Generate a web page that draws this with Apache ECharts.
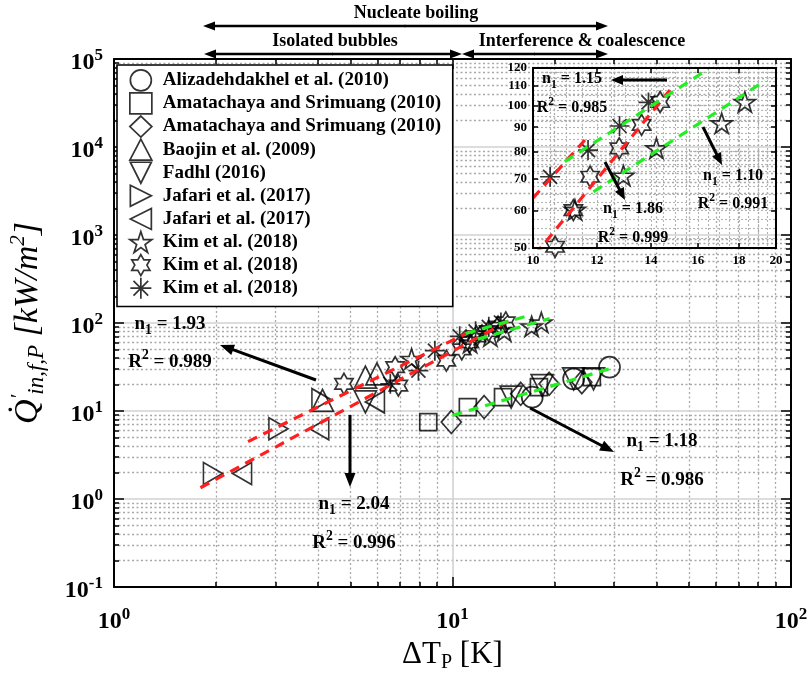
<!DOCTYPE html>
<html><head><meta charset="utf-8">
<script src="https://cdn.jsdelivr.net/npm/echarts@6/dist/echarts.min.js"></script>
<style>html,body{margin:0;padding:0;background:#fff}#c{width:811px;height:678px}</style>
</head><body><div id="c"></div>
<script>
const FONT = '"Liberation Serif", "Times New Roman", serif';

// ---------------- data ----------------
const seriesNames = [
  'Alizadehdakhel et al. (2010)',
  'Amatachaya and Srimuang (2010)',
  'Amatachaya and Srimuang (2010) ',
  'Baojin et al. (2009)',
  'Fadhl (2016)',
  'Jafari et al. (2017)',
  'Jafari et al. (2017) ',
  'Kim et al. (2018)',
  'Kim et al. (2018) ',
  'Kim et al. (2018)  '
];
const aliX = [17.2, 22.8, 29.1];
const aliY = [14.4, 23.2, 31.5];
const amaSqX = [8.48, 11.1, 14.1, 18.0, 25.8];
const amaSqY = [7.5, 11.1, 14.4, 18.7, 24.3];
const amaDiX = [9.92, 12.4, 15.9, 19.3, 24.1];
const amaDiY = [7.5, 11.1, 15.7, 20.4, 21.3];
const baoX = [4.13, 5.53, 5.98];
const baoY = [13.2, 24.3, 26.5];
const fadX = [5.53, 14.9, 18.4, 22.8, 26.1];
const fadY = [12.7, 14.4, 19.5, 23.2, 23.2];
const jafRX = [1.96, 3.06, 4.1];
const jafRY = [1.95, 6.3, 13.5];
const jafLX = [2.39, 4.04, 5.9];
const jafLY = [1.95, 6.3, 12.7];
const kimStarX = [7.57, 11.27, 12.94, 14.22, 17.13, 18.3];
const kimStarY = [39.2, 60.2, 71.1, 81.2, 91.7, 101.7];
const kimHexX = [4.78, 6.77, 6.92, 9.59, 10.65, 11.22, 11.77, 12.79, 13.63, 14.37];
const kimHexY = [20.4, 31.5, 19.5, 37.4, 50.3, 60.1, 70.7, 81.2, 91.0, 101.7];
const kimAstX = [6.55, 7.93, 8.87, 10.5, 11.7, 12.8, 13.9];
const kimAstY = [20.4, 28.8, 48.6, 70.7, 80.5, 90.5, 101.5];

// fitted lines (end points)
const redFit1X = [2.49, 11.6];   const redFit1Y = [4.5, 84.6];     // n1 = 1.93
const redFit2X = [1.80, 14.78];  const redFit2Y = [1.345, 107.8];  // n1 = 2.04 / 1.86
const greenFit1X = [10.0, 30.2]; const greenFit1Y = [8.93, 31.5];  // n1 = 1.18
const greenFit2X = [10.95, 16.49]; const greenFit2Y = [76.1, 119.4]; // n1 = 1.15
const greenFit3X = [11.88, 19.37]; const greenFit3Y = [65.7, 112.7]; // n1 = 1.10

// ticks
const xMajor = [1, 10, 100];
const yMajor = [0.1, 1, 10, 100, 1000, 10000, 100000];
const xMinor = [2,3,4,5,6,7,8,9,20,30,40,50,60,70,80,90];
const yMinor = [0.2,0.3,0.4,0.5,0.6,0.7,0.8,0.9,2,3,4,5,6,7,8,9,20,30,40,50,60,70,80,90,
  200,300,400,500,600,700,800,900,2000,3000,4000,5000,6000,7000,8000,9000,
  20000,30000,40000,50000,60000,70000,80000,90000];
const insetXTicks = [10, 12, 14, 16, 18, 20];
const insetYTicks = [50, 60, 70, 80, 90, 100, 110, 120];
const insetXGrid = [10.5, 11, 11.5, 12, 12.5, 13, 13.5, 14, 14.5, 15, 15.5, 16, 16.5, 17, 17.5, 18, 18.5, 19, 19.5];
const insetYGrid = [52.5, 55, 57.5, 60, 62.5, 65, 67.5, 70, 72.5, 75, 77.5, 80, 82.5, 85, 87.5, 90, 92.5, 95,
  97.5, 100, 102.5, 105, 107.5, 110, 112.5, 115, 117.5];

// ---------------- helpers ----------------
function pairs(xs, ys) { return xs.map((x, i) => [x, ys[i]]); }

const SYM = {
  circle: 'circle',
  square: 'rect',
  diamond: 'diamond',
  up: 'triangle',
  down: 'path://M0,0L100,0L50,100Z',
  right: 'path://M0,0L100,50L0,100Z',
  left: 'path://M100,0L0,50L100,100Z',
  star5: 'path://M50,0L61.23,34.55L97.55,34.55L68.17,55.9L79.39,90.45L50,69.1L20.61,90.45L31.83,55.9L2.45,34.55L38.77,34.55Z',
  star6: 'path://M50,0L64.43,25L93.3,25L78.87,50L93.3,75L64.43,75L50,100L35.57,75L6.7,75L21.13,50L6.7,25L35.57,25Z',
  aster: 'path://M50,0L50,100M0,50L100,50M15,15L85,85M85,15L15,85'
};

const markerStyle = {color: 'transparent', borderColor: '#000', borderWidth: 1.7};

const scatterDefs = [
  {name: seriesNames[0], x: aliX, y: aliY, sym: SYM.circle, size: 21},
  {name: seriesNames[1], x: amaSqX, y: amaSqY, sym: SYM.square, size: 17},
  {name: seriesNames[2], x: amaDiX, y: amaDiY, sym: SYM.diamond, size: [20, 23]},
  {name: seriesNames[3], x: baoX, y: baoY, sym: SYM.up, size: 22},
  {name: seriesNames[4], x: fadX, y: fadY, sym: SYM.down, size: 22},
  {name: seriesNames[5], x: jafRX, y: jafRY, sym: SYM.right, size: [19, 22]},
  {name: seriesNames[6], x: jafLX, y: jafLY, sym: SYM.left, size: [19, 22]},
  {name: seriesNames[7], x: kimStarX, y: kimStarY, sym: SYM.star5, size: 21, inset: true},
  {name: seriesNames[8], x: kimHexX, y: kimHexY, sym: SYM.star6, size: 21, inset: true},
  {name: seriesNames[9], x: kimAstX, y: kimAstY, sym: SYM.aster, size: 20, inset: true}
];

const series = [];
scatterDefs.forEach(d => {
  series.push({
    type: 'scatter', name: d.name, xAxisIndex: 0, yAxisIndex: 0,
    data: pairs(d.x, d.y), symbol: d.sym, symbolSize: d.size, symbolKeepAspect: true,
    itemStyle: markerStyle, z: 3, silent: true
  });
  if (d.inset) {
    series.push({
      type: 'scatter', name: d.name, xAxisIndex: 4, yAxisIndex: 4,
      data: pairs(d.x, d.y), symbol: d.sym, symbolSize: d.size, symbolKeepAspect: true,
      itemStyle: markerStyle, z: 3, silent: true, clip: true
    });
  }
});

const RED = '#ff1f1f', GREEN = '#22ee22';
const fits = [
  {x: redFit1X, y: redFit1Y, c: RED, inset: true},
  {x: redFit2X, y: redFit2Y, c: RED, inset: true},
  {x: greenFit1X, y: greenFit1Y, c: GREEN, inset: false},
  {x: greenFit2X, y: greenFit2Y, c: GREEN, inset: true},
  {x: greenFit3X, y: greenFit3Y, c: GREEN, inset: true}
];
fits.forEach(f => {
  const base = {type: 'line', symbol: 'none', silent: true, z: 4, clip: true,
    lineStyle: {color: f.c, width: 3.2, type: [10, 7]}, data: pairs(f.x, f.y)};
  series.push(Object.assign({}, base, {xAxisIndex: 0, yAxisIndex: 0}));
  if (f.inset) series.push(Object.assign({}, base, {xAxisIndex: 4, yAxisIndex: 4}));
});

// ---------------- axes ----------------
const expRich = {
  b: {fontFamily: FONT, fontWeight: 'bold', fontSize: 24, color: '#000', lineHeight: 28, verticalAlign: 'bottom'},
  s: {fontFamily: FONT, fontWeight: 'bold', fontSize: 17, color: '#000', lineHeight: 16, verticalAlign: 'top'}
};
function expFmt(v) { const e = Math.round(Math.log10(v)); return '{b|10}{s|' + e + '}'; }

const AXL = {show: true, onZero: false, lineStyle: {color: '#000', width: 2}};
const majorGrid = {show: true, lineStyle: {color: '#d2d2d2', width: 1.6, type: 'solid'}};
const minorGrid = {show: true, lineStyle: {color: '#a8a8a8', width: 1.3, type: [2, 2.5]}};
const insetGrid = {show: true, lineStyle: {color: '#b4b4b4', width: 1.1, type: [2, 2]}};

function logAx(o) {
  return Object.assign({
    type: 'log', logBase: 10,
    axisLine: {show: false}, axisTick: {show: false}, axisLabel: {show: false},
    splitLine: {show: false}, minorTick: {show: false}, minorSplitLine: {show: false}
  }, o);
}
const tk = (vals, len) => ({show: true, inside: true, length: len, customValues: vals, lineStyle: {color: '#000', width: 1.5}});

const xAxes = [
  // 0 main bottom (major)
  logAx({gridIndex: 0, min: 1, max: 100, position: 'bottom', z: 2,
    axisLine: AXL, axisTick: tk(xMajor, 10), splitLine: majorGrid,
    axisLabel: {show: true, customValues: xMajor, formatter: expFmt, rich: expRich, margin: 19},
    name: '{a|ΔT}{s|P}{a| [K]}', nameLocation: 'middle', nameGap: 50,
    nameTextStyle: {rich: {
      a: {fontFamily: FONT, fontSize: 31, color: '#000', lineHeight: 34, verticalAlign: 'top'},
      s: {fontFamily: FONT, fontSize: 20, color: '#000', lineHeight: 20, verticalAlign: 'bottom'}
    }}}),
  // 1 main bottom (minor)
  logAx({gridIndex: 0, min: 1, max: 100, position: 'bottom', z: 1,
    axisTick: tk(xMinor, 5), splitLine: minorGrid}),
  // 2 main top (major)
  logAx({gridIndex: 0, min: 1, max: 100, position: 'top', z: 2, axisLine: AXL, axisTick: tk(xMajor, 10)}),
  // 3 main top (minor)
  logAx({gridIndex: 0, min: 1, max: 100, position: 'top', z: 2, axisTick: tk(xMinor, 5)}),
  // 4 inset bottom
  logAx({gridIndex: 1, min: 10, max: 20, position: 'bottom', z: 5, axisLine: AXL, axisTick: tk(insetXTicks, 5),
    axisLabel: {show: true, customValues: insetXTicks, margin: 6, formatter: v => String(Math.round(v)),
      fontFamily: FONT, fontWeight: 'bold', fontSize: 13, color: '#000'}}),
  // 5 inset top
  logAx({gridIndex: 1, min: 10, max: 20, position: 'top', z: 5, axisLine: AXL, axisTick: tk(insetXTicks, 5)}),
  // 6 inset grid
  logAx({gridIndex: 1, min: 10, max: 20, position: 'bottom', z: 1,
    axisTick: {show: false, customValues: insetXGrid}, splitLine: insetGrid})
];

const yAxes = [
  // 0 main left (major)
  logAx({gridIndex: 0, min: 0.1, max: 100000, position: 'left', z: 2,
    axisLine: AXL, axisTick: tk(yMajor, 10), splitLine: majorGrid,
    axisLabel: {show: true, customValues: yMajor, formatter: expFmt, rich: expRich, margin: 11, padding: [4, 0, 0, 0]},
    name: '{q|Q\u0307}{p|\u2032}{s|in,f,P}{q| [kW/m}{e|2}{q|]}', nameLocation: 'middle', nameGap: 66, nameRotate: 90,
    nameTextStyle: {rich: {
      q: {fontFamily: FONT, fontStyle: 'italic', fontSize: 34, color: '#000', lineHeight: 40, verticalAlign: 'middle'},
      p: {fontFamily: FONT, fontStyle: 'italic', fontSize: 22, color: '#000', lineHeight: 20, verticalAlign: 'top'},
      s: {fontFamily: FONT, fontStyle: 'italic', fontSize: 23, color: '#000', lineHeight: 20, verticalAlign: 'bottom'},
      e: {fontFamily: FONT, fontStyle: 'italic', fontSize: 21, color: '#000', lineHeight: 20, verticalAlign: 'top'}
    }}}),
  // 1 main left minor
  logAx({gridIndex: 0, min: 0.1, max: 100000, position: 'left', z: 1, axisTick: tk(yMinor, 5), splitLine: minorGrid}),
  // 2 main right major
  logAx({gridIndex: 0, min: 0.1, max: 100000, position: 'right', z: 2, axisLine: AXL, axisTick: tk(yMajor, 10)}),
  // 3 main right minor
  logAx({gridIndex: 0, min: 0.1, max: 100000, position: 'right', z: 2, axisTick: tk(yMinor, 5)}),
  // 4 inset left
  logAx({gridIndex: 1, min: 50, max: 120, position: 'left', z: 5, axisLine: AXL, axisTick: tk(insetYTicks, 5),
    axisLabel: {show: true, customValues: insetYTicks, margin: 6, formatter: v => String(Math.round(v)),
      fontFamily: FONT, fontWeight: 'bold', fontSize: 13, color: '#000'}}),
  // 5 inset right
  logAx({gridIndex: 1, min: 50, max: 120, position: 'right', z: 5, axisLine: AXL, axisTick: tk(insetYTicks, 5)}),
  // 6 inset grid
  logAx({gridIndex: 1, min: 50, max: 120, position: 'left', z: 1,
    axisTick: {show: false, customValues: insetYGrid}, splitLine: insetGrid})
];

// ---------------- annotations ----------------
function arrow(x1, y1, x2, y2, w, hl, hw) {
  const dx = x2 - x1, dy = y2 - y1, L = Math.hypot(dx, dy), ux = dx / L, uy = dy / L;
  const bx = x2 - ux * hl, by = y2 - uy * hl;
  return [
    {type: 'line', z: 30, shape: {x1: x1, y1: y1, x2: bx + ux, y2: by + uy}, style: {stroke: '#000', lineWidth: w}},
    {type: 'polygon', z: 30, shape: {points: [[x2, y2], [bx - uy * hw, by + ux * hw], [bx + uy * hw, by - ux * hw]]}, style: {fill: '#000'}}
  ];
}
function dblArrow(x1, x2, y) {
  const m = (x1 + x2) / 2;
  return arrow(m, y, x1, y, 2.6, 12, 4.5).concat(arrow(m - 1, y, x2, y, 2.6, 12, 4.5));
}
function annRich(fs) {
  const L = 6.5 + 0.86 * fs;
  return {
    n: {fontFamily: FONT, fontWeight: 'bold', fontSize: fs, fill: '#000', lineHeight: L, verticalAlign: 'top'},
    lo: {fontFamily: FONT, fontWeight: 'bold', fontSize: fs * 0.72, fill: '#000', lineHeight: fs * 0.6, verticalAlign: 'bottom'},
    r: {fontFamily: FONT, fontWeight: 'bold', fontSize: fs, fill: '#000', lineHeight: L, verticalAlign: 'bottom'},
    hi: {fontFamily: FONT, fontWeight: 'bold', fontSize: fs * 0.72, fill: '#000', lineHeight: fs * 0.6, verticalAlign: 'top'}
  };
}
function nText(val, x, y, fs) {
  return {type: 'text', z: 30, x: x, y: y, style: {text: '{n|n}{lo|1}{n| = ' + val + '}', rich: annRich(fs), align: 'center', verticalAlign: 'middle'}};
}
function rText(val, x, y, fs) {
  return {type: 'text', z: 30, x: x, y: y, style: {text: '{r|R}{hi|2}{r| = ' + val + '}', rich: annRich(fs), align: 'center', verticalAlign: 'middle'}};
}
function plainText(t, x, y, fs) {
  return {type: 'text', z: 30, x: x, y: y, style: {text: t, fontFamily: FONT, fontWeight: 'bold', fontSize: fs, fill: '#000', align: 'center', verticalAlign: 'middle'}};
}

const graphics = [].concat(
  [plainText('Nucleate boiling', 416, 13, 18),
   plainText('Isolated bubbles', 335, 41, 18),
   plainText('Interference & coalescence', 582, 41, 18)],
  dblArrow(203, 608, 26),
  dblArrow(204, 462, 54),
  dblArrow(462, 608, 54),
  [nText('1.93', 170, 326, 19), rText('0.989', 170, 360, 19),
   nText('2.04', 354, 506, 19), rText('0.996', 354, 541, 19),
   nText('1.18', 662, 443, 19), rText('0.986', 662, 478, 19)],
  arrow(316, 380, 220, 345, 3, 14, 5.5),
  arrow(350, 415, 350, 487, 3, 14, 5.5),
  arrow(530, 408, 614, 452, 3, 14, 5.5),
  [nText('1.15', 572, 81, 16), rText('0.985', 572, 106, 16),
   nText('1.86', 633, 211, 16), rText('0.999', 633, 236, 16),
   nText('1.10', 733, 178, 16), rText('0.991', 733, 202, 16)],
  arrow(667, 80, 611, 80, 3, 12, 5),
  arrow(605, 162, 625, 200, 3, 12, 5),
  arrow(703, 127, 722, 165, 3, 12, 5)
);

const chart = echarts.init(document.getElementById('c'), null, {renderer: 'canvas'});
chart.setOption({
  animation: false,
  backgroundColor: '#fff',
  grid: [
    {left: 108, top: 59, width: 683, height: 530, containLabel: false},
    {left: 533, top: 68, width: 243, height: 180, containLabel: false}
  ],
  xAxis: xAxes,
  yAxis: yAxes,
  legend: {
    data: seriesNames, orient: 'vertical', left: 117, top: 65,
    itemWidth: 22, itemHeight: 21, itemGap: 0.4, padding: [4, 7, 7, 12],
    selectedMode: false, z: 10,
    backgroundColor: '#fff', borderColor: '#000', borderWidth: 1.6, borderRadius: 0,
    itemStyle: {color: 'transparent', borderColor: '#000', borderWidth: 1.7},
    textStyle: {fontFamily: FONT, fontWeight: 'bold', fontSize: 19, color: '#000', padding: [0, 0, 0, 6]}
  },
  series: series,
  graphic: {elements: graphics}
});
</script></body></html>
